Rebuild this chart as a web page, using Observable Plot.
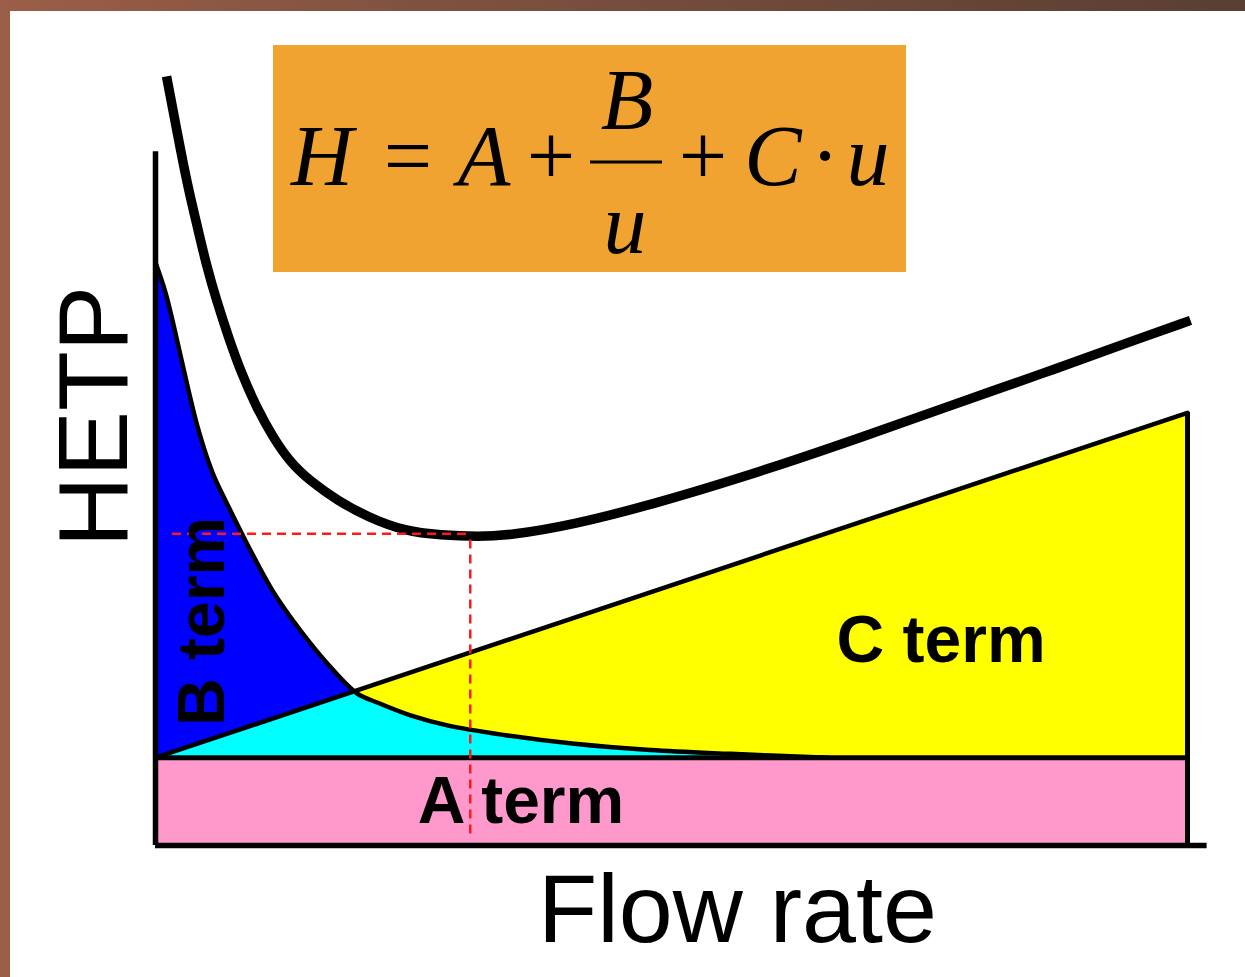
<!DOCTYPE html>
<html><head><meta charset="utf-8">
<script src="https://cdn.jsdelivr.net/npm/d3@7"></script>
<script src="https://cdn.jsdelivr.net/npm/@observablehq/plot@0.6"></script>
<style>
html,body{margin:0;padding:0;overflow:hidden;width:1245px;height:977px;}
body{background:linear-gradient(90deg,#9b5e48 0%,#7e5240 35%,#5a3e33 100%);position:relative;}
#panel{position:absolute;left:10px;top:11px;right:0;bottom:0;background:#fff;}
#chart{position:absolute;left:0;top:0;}
</style></head><body><div id="panel"></div><div id="chart"></div>
<script>
// ---- data (flow rate u, plate height contributions) ----
const uMax = 10;
const aTerm = 1.14;                 // A term (constant)
const cU = [0, 10];
const cTerm = [0, 4.48];            // C term (rises linearly with u)
const bU = [0, 0.097, 0.194, 0.320, 0.407, 0.494, 0.581, 0.678, 0.921, 1.134, 1.405, 1.667, 1.948, 2.161, 2.471, 2.829, 3.353, 4.060, 4.797, 5.572, 6.52];
const bTerm = [6.43, 6.04, 5.51, 4.77, 4.30, 3.92, 3.61, 3.34, 2.69, 2.17, 1.65, 1.22, 0.84, 0.71, 0.55, 0.42, 0.30, 0.18, 0.10, 0.05, 0.0];
const hU = [0.107, 0.203, 0.310, 0.407, 0.494, 0.591, 0.707, 0.833, 0.979, 1.134, 1.308, 1.502, 1.764, 2.064, 2.422, 2.762, 3.130, 3.440, 4.031, 4.816, 5.688, 6.667, 7.655, 8.576, 9.564, 10.029];
const hValues = [9.99, 9.31, 8.57, 8.03, 7.53, 7.08, 6.60, 6.13, 5.69, 5.31, 4.97, 4.73, 4.48, 4.26, 4.08, 4.03, 4.01, 4.03, 4.16, 4.43, 4.78, 5.22, 5.69, 6.12, 6.60, 6.82];
const hMin = {u: 3.05, h: 4.05};
const guideStart = 0.165, guideBottom = 0.15;
const axisTop = 9.01, axisRight = 10.19;
const termLabels = [
  {text: "A term", u: 2.54, h: 0.286},
  {text: "C term", u: 6.60, h: 2.377}
];
const bLabel = {text: "B term", u: 0.659, h: 2.91};

// ---- tables for the library ----
const cData = cU.map((u, i) => ({u, top: aTerm + cTerm[i]}));
const bData = bU.map((u, i) => ({u, top: aTerm + bTerm[i]}));
const hData = hU.map((u, i) => ({u, h: hValues[i]}));

const sans = "Liberation Sans, Arial, Helvetica, sans-serif";
const bCurve = "catmull-rom";

const svg = Plot.plot({
  width: 1245, height: 977,
  marginLeft: 155, marginRight: 58, marginTop: 75, marginBottom: 132,
  style: {background: "transparent", overflow: "visible"},
  x: {domain: [0, uMax], axis: null},
  y: {domain: [0, 10], axis: null},
  marks: [
    Plot.rect([aTerm], {x1: 0, x2: uMax, y1: 0, y2: d => d, fill: "#ff99cc"}),
    Plot.areaY(cData, {x: "u", y1: aTerm, y2: "top", fill: "#ffff00"}),
    Plot.areaY(bData, {x: "u", y1: aTerm, y2: "top", fill: "#0000ff", curve: bCurve}),
    Plot.areaY(bData, {x: "u", y1: aTerm, y2: "top", fill: "#00ffff", curve: bCurve}),
    Plot.line(cData, {x: "u", y: "top", stroke: "black", strokeWidth: 4.5}),
    Plot.line(bData, {x: "u", y: "top", stroke: "black", strokeWidth: 4.5, curve: bCurve}),
    Plot.ruleY([aTerm], {x1: 0, x2: uMax, stroke: "black", strokeWidth: 5}),
    Plot.ruleX([uMax], {y1: 0, y2: aTerm + cTerm[1], stroke: "black", strokeWidth: 5}),
    Plot.ruleX([0], {y1: 0, y2: axisTop, stroke: "black", strokeWidth: 5.5}),
    Plot.ruleY([0], {x1: 0, x2: axisRight, stroke: "black", strokeWidth: 5.5}),
    Plot.line(hData, {x: "u", y: "h", stroke: "black", strokeWidth: 9.5, curve: "basis", strokeLinecap: "butt"}),
    Plot.ruleY([hMin.h], {x1: guideStart, x2: hMin.u, stroke: "#ff1a1a", strokeWidth: 2.5, strokeDasharray: "9,6"}),
    Plot.ruleX([hMin.u], {y1: guideBottom, y2: hMin.h, stroke: "#ff1a1a", strokeWidth: 2.5, strokeDasharray: "9,6"}),
    Plot.text(termLabels, {x: "u", y: "h", text: "text", textAnchor: "start", lineAnchor: "bottom",
      fontSize: 66, fontWeight: "bold", fontFamily: sans, fill: "black"}),
    Plot.text([bLabel], {x: "u", y: "h", text: "text", rotate: -90, textAnchor: "middle", lineAnchor: "bottom",
      fontSize: 66, fontWeight: "bold", fontFamily: sans, fill: "black"}),
    Plot.text(["HETP"], {text: d => d, frameAnchor: "left", dx: -29, dy: -44, rotate: -90,
      textAnchor: "middle", lineAnchor: "bottom", fontSize: 98, fontFamily: sans, fill: "black"}),
    Plot.text(["Flow rate"], {text: d => d, frameAnchor: "bottom", dx: 66, dy: 96,
      textAnchor: "middle", lineAnchor: "bottom", fontSize: 97, fontFamily: sans, fill: "black"})
  ]
});

// overlap of B and C regions shown in cyan: clip the cyan B-area to the C-term area
const sel = d3.select(svg);
const areaGroups = svg.querySelectorAll('g[aria-label="area"]');
if (areaGroups.length >= 3) {
  const cPath = areaGroups[0].querySelector("path");
  sel.insert("defs", ":first-child").append("clipPath").attr("id", "overlap-clip")
    .append("path").attr("d", cPath.getAttribute("d"))
    .attr("transform", areaGroups[0].getAttribute("transform"));
  d3.select(areaGroups[2]).select("path").attr("clip-path", "url(#overlap-clip)");
}

// equation box
const eq = sel.append("g");
eq.append("rect").attr("x", 273).attr("y", 45).attr("width", 633).attr("height", 227).attr("fill", "#f0a330");
const serif = "Liberation Serif, Times New Roman, Times, serif";
const glyphs = [
  {t: "H", x: 322, y: 185, it: true}, {t: "=", x: 408, y: 185}, {t: "A", x: 484, y: 185, it: true},
  {t: "+", x: 551, y: 185}, {t: "B", x: 627, y: 129, it: true}, {t: "u", x: 625, y: 253, it: true},
  {t: "+", x: 703, y: 185}, {t: "C", x: 773, y: 185, it: true}, {t: "\u00b7", x: 825, y: 185},
  {t: "u", x: 868, y: 185, it: true}
];
eq.selectAll("text").data(glyphs).join("text")
  .attr("x", d => d.x).attr("y", d => d.y).attr("text-anchor", "middle")
  .attr("font-family", serif).attr("font-size", 86).attr("font-style", d => d.it ? "italic" : "normal")
  .attr("fill", "black").text(d => d.t);
eq.append("line").attr("x1", 590).attr("x2", 662).attr("y1", 162).attr("y2", 162)
  .attr("stroke", "black").attr("stroke-width", 3);

document.getElementById("chart").append(svg);
</script></body></html>
